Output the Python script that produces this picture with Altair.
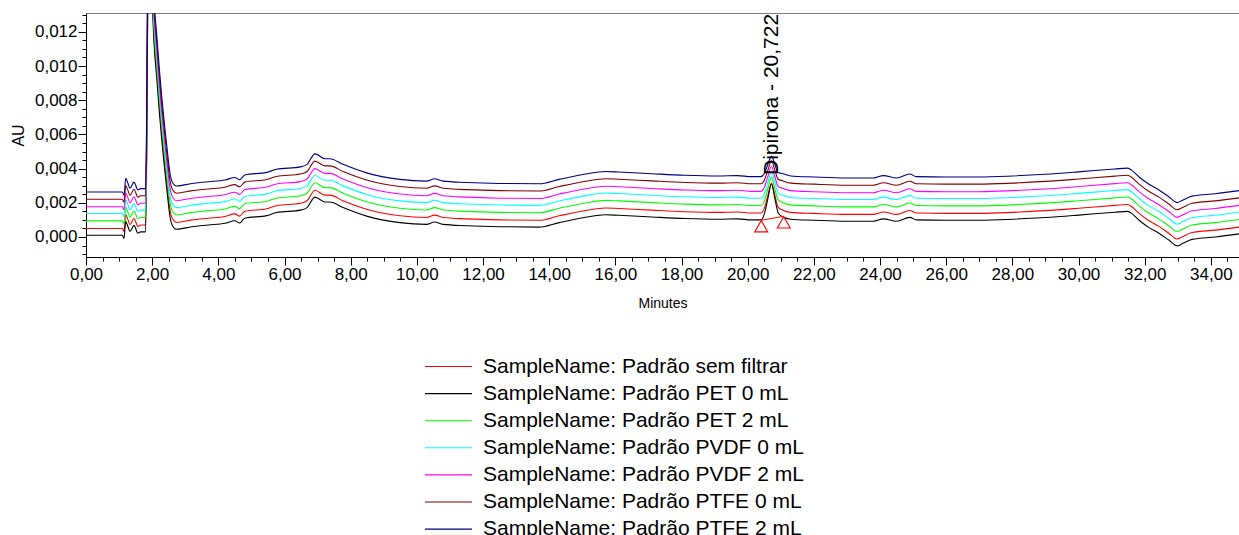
import altair as alt
import pandas as pd

# Retention time grid shared by all traces (minutes)
minutes = [
    0.00, 1.10, 1.15, 1.20, 1.27, 1.33, 1.45, 1.57, 1.65, 1.80,
    1.84, 1.87, 1.92, 1.96, 2.02, 2.15, 2.29, 2.38, 2.47, 2.54,
    2.60, 2.74, 3.20, 3.70, 4.20, 4.50, 4.64, 4.80, 5.46, 5.76,
    6.48, 6.68, 6.92, 7.22, 7.37, 7.77, 8.48, 9.49, 10.29, 10.54,
    10.79, 11.50, 12.50, 13.70, 14.30, 15.10, 15.70, 16.10, 17.10, 18.10,
    19.10, 19.70, 20.10, 20.40, 20.50, 20.60, 20.72, 20.82, 20.92, 21.05,
    21.30, 22.00, 23.00, 23.80, 24.10, 24.50, 24.90, 25.10, 26.00, 27.00,
    28.00, 29.00, 30.00, 31.10, 31.48, 31.58, 31.83, 32.13, 32.43, 32.73,
    32.98, 33.13, 33.43, 34.14, 34.85,
]

# Absorbance of each overlaid trace, in units of 0.00001 AU
AU_UNIT = 1e-5

au_sem_filtrar = [
    50, 50, 32, 130, 100, 72, 108, 62, 70, 70,
    640, 1540, 2440, 1940, 1340, 940, 606, 430, 270, 157,
    112, 85, 100, 110, 120, 135, 122, 150, 165, 183,
    197, 212, 273, 245, 245, 212, 162, 124, 114, 128,
    114, 106, 100, 98, 124, 155, 170, 167, 157, 148,
    144, 146, 140, 140, 166, 236, 315, 245, 175, 158,
    144, 138, 132, 132, 146, 132, 155, 140, 138, 138,
    144, 154, 168, 185, 190, 181, 138, 95, 62, 22,
    -12, 0, 26, 40, 58,
]
au_pet_0 = [
    10, 10, -8, 90, 60, 32, 68, 22, 30, 30,
    600, 1500, 2400, 1900, 1300, 900, 566, 390, 230, 117,
    72, 45, 60, 70, 80, 95, 82, 110, 125, 143,
    157, 172, 233, 205, 205, 172, 122, 84, 74, 88,
    74, 66, 60, 58, 84, 115, 130, 127, 117, 108,
    104, 106, 100, 100, 132, 216, 310, 226, 142, 118,
    104, 98, 92, 92, 106, 92, 115, 100, 98, 98,
    104, 114, 128, 145, 150, 141, 98, 55, 22, -18,
    -52, -40, -14, 0, 18,
]
au_pet_2 = [
    94, 94, 76, 174, 144, 116, 152, 106, 114, 114,
    684, 1584, 2484, 1984, 1384, 984, 650, 474, 314, 201,
    156, 129, 144, 154, 164, 179, 166, 194, 209, 227,
    241, 256, 317, 289, 289, 256, 206, 168, 158, 172,
    158, 150, 144, 142, 168, 199, 214, 211, 201, 192,
    188, 190, 184, 184, 209, 275, 349, 283, 217, 202,
    188, 182, 176, 176, 190, 176, 199, 184, 182, 182,
    188, 198, 212, 229, 234, 225, 182, 139, 106, 66,
    32, 44, 70, 84, 102,
]
au_pvdf_0 = [
    137, 137, 119, 217, 187, 159, 195, 149, 157, 157,
    727, 1627, 2527, 2027, 1427, 1027, 693, 517, 357, 244,
    199, 172, 187, 197, 207, 222, 209, 237, 252, 270,
    284, 299, 360, 332, 332, 299, 249, 211, 201, 215,
    201, 193, 187, 185, 211, 242, 257, 254, 244, 235,
    231, 233, 227, 227, 250, 312, 382, 320, 258, 245,
    231, 225, 219, 219, 233, 219, 242, 227, 225, 225,
    231, 241, 255, 272, 277, 268, 225, 182, 149, 109,
    75, 87, 113, 127, 145,
]
au_pvdf_2 = [
    177, 177, 159, 257, 227, 199, 235, 189, 197, 197,
    767, 1667, 2567, 2067, 1467, 1067, 733, 557, 397, 284,
    239, 212, 227, 237, 247, 262, 249, 277, 292, 310,
    324, 339, 400, 372, 372, 339, 289, 251, 241, 255,
    241, 233, 227, 225, 251, 282, 297, 294, 284, 275,
    271, 273, 267, 267, 289, 347, 412, 354, 296, 285,
    271, 265, 259, 259, 273, 259, 282, 267, 265, 265,
    271, 281, 295, 312, 317, 308, 265, 222, 189, 149,
    115, 127, 153, 167, 185,
]
au_ptfe_0 = [
    221, 221, 203, 301, 271, 243, 279, 233, 241, 241,
    811, 1711, 2611, 2111, 1511, 1111, 777, 601, 441, 328,
    283, 256, 271, 281, 291, 306, 293, 321, 336, 354,
    368, 383, 444, 416, 416, 383, 333, 295, 285, 299,
    285, 277, 271, 269, 295, 326, 341, 338, 328, 319,
    315, 317, 311, 311, 331, 385, 446, 392, 338, 329,
    315, 309, 303, 303, 317, 303, 326, 311, 309, 309,
    315, 325, 339, 356, 361, 352, 309, 266, 233, 193,
    159, 171, 197, 211, 229,
]
au_ptfe_2 = [
    263, 263, 245, 343, 313, 285, 321, 275, 283, 283,
    853, 1753, 2653, 2153, 1553, 1153, 819, 643, 483, 370,
    325, 298, 313, 323, 333, 348, 335, 363, 378, 396,
    410, 425, 486, 458, 458, 425, 375, 337, 327, 341,
    327, 319, 313, 311, 337, 368, 383, 380, 370, 361,
    357, 359, 353, 353, 371, 419, 473, 425, 377, 371,
    357, 351, 345, 345, 359, 345, 368, 353, 351, 351,
    357, 367, 381, 398, 403, 394, 351, 308, 275, 235,
    201, 213, 239, 253, 271,
]

sample_names = [
    "SampleName: Padrão sem filtrar",
    "SampleName: Padrão PET 0 mL",
    "SampleName: Padrão PET 2 mL",
    "SampleName: Padrão PVDF 0 mL",
    "SampleName: Padrão PVDF 2 mL",
    "SampleName: Padrão PTFE 0 mL",
    "SampleName: Padrão PTFE 2 mL",
]
sample_colors = ["#ff0000", "#000000", "#00ff00", "#00ffff", "#ff00ff", "#800000", "#000080"]
traces = [au_sem_filtrar, au_pet_0, au_pet_2, au_pvdf_0, au_pvdf_2, au_ptfe_0, au_ptfe_2]

# Integrated peak: label, apex and baseline start/end markers
peak_label = "Dipirona - 20,722"
peak_time = [20.722]
peak_apex_au = [0.00310]
baseline_times = [20.41, 21.09]
baseline_au = [0.00098, 0.00121]

rows = []
for name, trace in zip(sample_names, traces):
    for t, v in zip(minutes, trace):
        rows.append({"sample": name, "min": t, "au": v * AU_UNIT})
df = pd.DataFrame(rows)

peak_df = pd.DataFrame({"min": peak_time, "au": peak_apex_au, "label": [peak_label]})
base_df = pd.DataFrame({"min": baseline_times, "au": baseline_au})

# Minor ticks every 0.5 min / 0.0005 AU; labelled majors every 2 min / 0.002 AU
x_tick_values = [i * 0.5 for i in range(70)]
y_tick_values = [round(-0.001 + i * 0.0005, 4) for i in range(29)]

x_major = "round(datum.value * 2) % 4 === 0"
y_major = "abs(round(datum.value * 10000)) % 20 === 0"

x_scale = alt.Scale(domain=[0, 34.85], nice=False, zero=False)
y_scale = alt.Scale(domain=[-0.00117, 0.0131], nice=False, zero=False)

x_axis = alt.Axis(
    title="Minutes",
    values=x_tick_values,
    tickCount=500,
    labelExpr=f"{x_major} ? replace(format(datum.value, '.2f'), '.', ',') : ''",
    tickSize={"condition": {"test": x_major, "value": 8}, "value": 4},
    labelFontSize=17,
    labelPadding=1,
    labelOverlap=False,
    labelFlush=False,
    titleFontSize=14,
    titleFontWeight="normal",
    titlePadding=14,
    grid=False,
)
y_axis = alt.Axis(
    title="AU",
    values=y_tick_values,
    tickCount=500,
    labelExpr=f"{y_major} ? replace(format(datum.value, '.3f'), '.', ',') : ''",
    tickSize={"condition": {"test": y_major, "value": 8}, "value": 4},
    labelFontSize=17,
    labelPadding=1,
    labelOverlap=False,
    labelFlush=False,
    titleFontSize=16,
    titleFontWeight="normal",
    titlePadding=8,
    grid=False,
)

# Legend sample line: a custom horizontal path, scaled by sqrt(symbolSize)/2
legend = alt.Legend(
    title=None,
    orient="none",
    legendX=352,
    legendY=343,
    direction="vertical",
    symbolType="M-4.7,0H4.7",
    symbolSize=100,
    symbolStrokeWidth=1.1,
    symbolFillColor="transparent",
    labelFontSize=21,
    labelOffset=24,
    labelLimit=0,
    rowPadding=5.1,
    padding=0,
)

lines = alt.Chart(df).mark_line(strokeWidth=1.1, interpolate="monotone", clip=True).encode(
    x=alt.X("min:Q", scale=x_scale, axis=x_axis),
    y=alt.Y("au:Q", scale=y_scale, axis=y_axis),
    color=alt.Color(
        "sample:N",
        scale=alt.Scale(domain=sample_names, range=sample_colors),
        legend=legend,
    ),
)

baseline = alt.Chart(base_df).mark_line(color="#ff0000", strokeWidth=1).encode(
    x=alt.X("min:Q", scale=x_scale),
    y=alt.Y("au:Q", scale=y_scale),
)
markers = alt.Chart(base_df).mark_point(
    shape="triangle-up", filled=False, color="#ff0000", size=169, strokeWidth=1.1, yOffset=6, opacity=1
).encode(
    x=alt.X("min:Q", scale=x_scale),
    y=alt.Y("au:Q", scale=y_scale),
)
label = alt.Chart(peak_df).mark_text(
    angle=270, align="left", baseline="middle", fontSize=21, dx=9, color="#000000"
).encode(
    x=alt.X("min:Q", scale=x_scale),
    y=alt.Y("au:Q", scale=y_scale),
    text="label:N",
)

chart = alt.layer(lines, baseline, markers, label).properties(
    width=1153,
    height=244,
    autosize=alt.AutoSizeParams(type="none"),
    padding={"left": 86, "top": 13, "right": 0, "bottom": 278},
).configure(
    font="Liberation Sans",
).configure_view(
    stroke="#808080",
    strokeWidth=1,
).configure_axis(
    domainColor="#000000",
    tickColor="#000000",
    labelColor="#000000",
    titleColor="#000000",
    labelFont="Liberation Sans",
    titleFont="Liberation Sans",
).configure_legend(
    labelFont="Liberation Sans",
    labelColor="#000000",
)

chart.save("out.html", embed_options={"renderer": "svg", "actions": False})
